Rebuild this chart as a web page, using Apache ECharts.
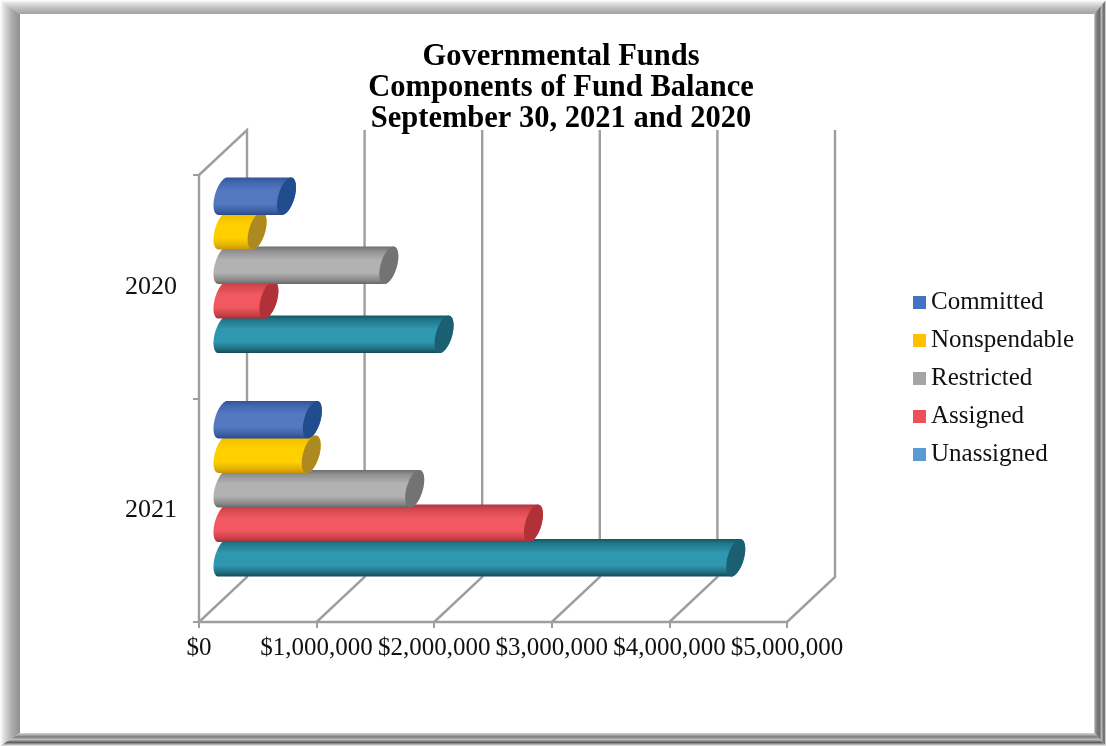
<!DOCTYPE html>
<html>
<head>
<meta charset="utf-8">
<style>html,body{margin:0;padding:0;background:#fff}#chart{width:1106px;height:746px}</style>
<script src="https://cdn.jsdelivr.net/npm/echarts@6/dist/echarts.min.js"></script>
</head>
<body>
<div id="chart"></div>
<script>
// Fund balance components, in dollars, at each year end
const years = ['2021', '2020'];
const committed = [760000, 540000];
const nonspendable = [750000, 290000];
const restricted = [1630000, 1410000];
const assigned = [2640000, 390000];
const unassigned = [4360000, 1880000];
const tickValues = [0, 1000000, 2000000, 3000000, 4000000, 5000000];
const seriesNames = ['Committed', 'Nonspendable', 'Restricted', 'Assigned', 'Unassigned'];
const seriesValues = [committed, nonspendable, restricted, assigned, unassigned];
const legendColors = ['#4472c4', '#ffc000', '#a5a5a5', '#ed5058', '#5b9bd5'];

// Cylinder shading: upper edge, highlight, lower edge, end cap
const shades = [
  ['#2f5299', '#5479c2', '#27498a', '#214c8e'],
  ['#e8b400', '#ffd000', '#c99508', '#ad8a20'],
  ['#6e6e6e', '#b2b2b2', '#666666', '#737373'],
  ['#b2343b', '#f1585f', '#a82d34', '#b03238'],
  ['#135766', '#2f97af', '#124854', '#1b5f72']
];

const FONT = '"Liberation Serif", "Times New Roman", serif';
const DEPTH_X = 48, DEPTH_Y = 45;
const BAR_DX = 24, BAR_DY = 21.5;
const WALL = '#9e9e9e';

// Point on the slanted ellipse that forms a cylinder's round end
function rimPoint(cx, cy, ry, angle) {
  const rx = 8.4, shear = 4.5;
  return [cx + rx * Math.cos(angle) - shear * Math.sin(angle), cy + ry * Math.sin(angle)];
}
function arc(cx, cy, ry, from, to) {
  const pts = [];
  for (let i = 0; i <= 24; i++) {
    pts.push(rimPoint(cx, cy, ry, from + (to - from) * i / 24));
  }
  return pts;
}

function cylinderSeries(name, idx) {
  const rows = seriesValues[idx].map((v, c) => [v, years[c]]);
  return {
    name: name,
    type: 'custom',
    coordinateSystem: 'cartesian2d',
    z: 10 - idx,
    itemStyle: { color: legendColors[idx] },
    encode: { x: 0, y: 1 },
    data: rows,
    renderItem: function (params, api) {
      const band = api.size([0, 1])[1];
      const step = band * 0.1545;
      const ry = band * 0.084;
      const end = api.coord([api.value(0), api.value(1)]);
      const start = api.coord([0, api.value(1)]);
      const cy = end[1] - BAR_DY + (idx - 2) * step;
      const x0 = start[0] + BAR_DX;
      const x1 = end[0] + BAR_DX;
      const s = shades[idx];
      const bodyPts = arc(x0, cy, ry, Math.PI / 2, Math.PI * 1.5)
        .concat(arc(x1, cy, ry, -Math.PI / 2, Math.PI / 2));
      const upper = echarts.color.lerp(0.5, [s[0], s[1]]);
      const lower = echarts.color.lerp(0.55, [s[1], s[2]]);
      return {
        type: 'group',
        children: [
          {
            type: 'polygon',
            shape: { points: bodyPts },
            style: {
              fill: {
                type: 'linear', x: 0, y: 0, x2: 0, y2: 1,
                colorStops: [
                  { offset: 0, color: s[0] },
                  { offset: 0.12, color: upper },
                  { offset: 0.36, color: s[1] },
                  { offset: 0.7, color: s[1] },
                  { offset: 0.9, color: lower },
                  { offset: 1, color: s[2] }
                ]
              }
            }
          },
          {
            type: 'polygon',
            shape: { points: arc(x1, cy, ry, 0, Math.PI * 2) },
            style: { fill: s[3] }
          }
        ]
      };
    }
  };
}

// Floor and back wall gridlines behind the bars, one per axis tick
const wallSeries = {
  type: 'custom',
  coordinateSystem: 'cartesian2d',
  z: 1,
  silent: true,
  encode: { x: 0 },
  data: tickValues.map(v => [v]),
  renderItem: function (params, api) {
    const rect = params.coordSys;
    const x = api.coord([api.value(0), years[0]])[0];
    const bottom = rect.y + rect.height, top = rect.y;
    const pts = [[x, bottom], [x + DEPTH_X, bottom - DEPTH_Y], [x + DEPTH_X, top - DEPTH_Y]];
    if (api.value(0) === 0) {
      pts.push([x, top]);
    }
    return {
      type: 'polyline',
      shape: { points: pts },
      style: { stroke: WALL, lineWidth: 2.4, fill: 'none' }
    };
  }
};

// Bevelled picture frame around the page
function frameBand(points, x2, y2, stops) {
  return {
    type: 'polygon', silent: true, z: 0,
    shape: { points: points },
    style: {
      fill: {
        type: 'linear', x: 0, y: 0, x2: x2, y2: y2,
        colorStops: stops.map(st => ({ offset: st[0], color: st[1] }))
      }
    }
  };
}
const W = 1106, H = 746, L = 20, T = 14, R = 1094, B = 733;
const frame = [
  frameBand([[0, 0], [W, 0], [R, T], [L, T]], 0, 1,
    [[0, '#ffffff'], [0.2, '#e4e4e4'], [0.6, '#bdbdbd'], [1, '#a2a2a2']]),
  frameBand([[0, 0], [L, T], [L, B], [0, H]], 1, 0,
    [[0, '#ffffff'], [0.2, '#dedede'], [0.6, '#ababab'], [1, '#8f8f8f']]),
  frameBand([[W, 0], [W, H], [R, B], [R, T]], 1, 0,
    [[0, '#d6d6d6'], [0.15, '#8a8a8a'], [0.45, '#6a6a6a'], [0.62, '#b4b4b4'], [0.85, '#5e5e5e'], [1, '#f4f4f4']]),
  frameBand([[0, H], [L, B], [R, B], [W, H]], 0, 1,
    [[0, '#d6d6d6'], [0.3, '#7c7c7c'], [0.5, '#bcbcbc'], [0.72, '#5c5c5c'], [1, '#f0f0f0']])
];

const chart = echarts.init(document.getElementById('chart'), null, { renderer: 'canvas', width: W, height: H });
chart.setOption({
  animation: false,
  backgroundColor: '#ffffff',
  title: {
    text: 'Governmental Funds\nComponents of Fund Balance\nSeptember 30, 2021 and 2020',
    left: 556,
    top: 37,
    textAlign: 'center',
    textStyle: { fontFamily: FONT, fontWeight: 'bold', fontSize: 30.5, lineHeight: 31, color: '#000' }
  },
  legend: {
    orient: 'vertical',
    left: 913,
    top: 290,
    padding: 0,
    icon: 'rect',
    itemWidth: 13,
    itemHeight: 13,
    itemGap: 13,
    data: seriesNames,
    selectedMode: false,
    textStyle: { fontFamily: FONT, fontSize: 25, color: '#111' }
  },
  grid: { left: 199, top: 175, width: 588, height: 447, containLabel: false },
  xAxis: {
    type: 'value',
    min: 0,
    max: 5000000,
    interval: 1000000,
    axisLine: { show: true, lineStyle: { color: WALL, width: 2.4 } },
    axisTick: { show: true, length: 6, lineStyle: { color: WALL, width: 2 } },
    splitLine: { show: false },
    axisLabel: {
      fontFamily: FONT,
      fontSize: 25,
      color: '#111',
      margin: 14,
      hideOverlap: false,
      formatter: v => '$' + v.toLocaleString('en-US')
    }
  },
  yAxis: {
    type: 'category',
    data: years,
    axisLine: { show: true, onZero: false, lineStyle: { color: WALL, width: 2.4 } },
    axisTick: { show: true, length: 6, lineStyle: { color: WALL, width: 2 } },
    splitLine: { show: false },
    axisLabel: { fontFamily: FONT, fontSize: 26, color: '#111', margin: 22, padding: [8, 0, 0, 0] }
  },
  graphic: { elements: frame },
  series: [wallSeries].concat(seriesNames.map(cylinderSeries))
});
</script>
</body>
</html>
